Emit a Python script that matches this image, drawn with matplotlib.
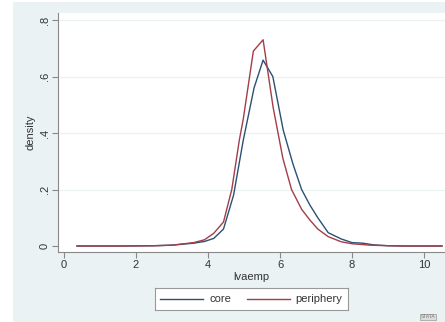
import matplotlib
matplotlib.use("Agg")
import matplotlib.pyplot as plt
from matplotlib.patches import Rectangle
from matplotlib.lines import Line2D

plt.rcParams['font.family'] = ['Liberation Sans', 'DejaVu Sans']

# kernel density estimates
core_x = [0.36, 1.5, 2.5, 3.0, 3.6, 3.9, 4.16, 4.43, 4.71, 4.98, 5.28, 5.53, 5.8,
          6.09, 6.36, 6.6, 6.83, 7.05, 7.34, 7.7, 8.0, 8.3, 8.6, 9.0, 9.5, 10.5]
core_y = [0.0, 0.0, 0.001, 0.003, 0.01, 0.016, 0.027, 0.06, 0.18, 0.375, 0.56, 0.658, 0.60,
          0.41, 0.29, 0.2, 0.145, 0.1, 0.047, 0.025, 0.012, 0.01, 0.004, 0.001, 0.0, 0.0]

peri_x = [0.36, 1.5, 2.5, 3.0, 3.6, 3.9, 4.16, 4.43, 4.66, 4.87, 4.98, 5.26, 5.53,
          5.81, 6.08, 6.32, 6.6, 6.83, 7.05, 7.34, 7.7, 8.0, 8.5, 9.0, 9.5, 10.5]
peri_y = [0.0, 0.0, 0.001, 0.003, 0.012, 0.022, 0.045, 0.085, 0.2, 0.375, 0.45, 0.69, 0.73,
          0.49, 0.31, 0.2, 0.13, 0.092, 0.06, 0.033, 0.015, 0.008, 0.003, 0.001, 0.0, 0.0]

xticks = [0, 2, 4, 6, 8, 10]
xtick_labels = ["0", "2", "4", "6", "8", "10"]
yticks = [0, 0.2, 0.4, 0.6, 0.8]
ytick_labels = ["0", ".2", ".4", ".6", ".8"]
series_names = ["core", "periphery"]

W, H = 445, 322
fig = plt.figure(figsize=(W / 100, H / 100), dpi=100, facecolor="white")

# graph region background (Stata s2color)
bg = Rectangle((13 / W, 0), 1 - 13 / W, (H - 2) / H,
               transform=fig.transFigure, facecolor="#EAF2F3",
               edgecolor="none", zorder=-10)
fig.patches.append(bg)

ax = fig.add_axes([58 / W, (H - 252) / H, (W - 58) / W, (252 - 13) / H])
ax.set_facecolor("white")

navy = "#2a5174"
maroon = "#a33d48"
ax.plot(core_x, core_y, color=navy, lw=1.0, zorder=3)
ax.plot(peri_x, peri_y, color=maroon, lw=1.0, zorder=3)

ax.set_xlim(-0.167, 10.583)
ax.set_ylim(-0.0212, 0.8248)

for yv in yticks[1:]:
    ax.axhline(yv, color="#EAF2F3", lw=0.9, zorder=1)

ax.set_xticks(xticks)
ax.set_xticklabels(xtick_labels, fontsize=8, color="#333333")
ax.set_yticks(yticks)
ax.set_yticklabels(ytick_labels, fontsize=8, color="#333333", rotation=90, va="center")
ax.tick_params(axis="both", length=4, width=0.8, color="#888888", direction="out", pad=2)

for s in ["top", "right"]:
    ax.spines[s].set_visible(False)
for s in ["left", "bottom"]:
    ax.spines[s].set_color("#888888")
    ax.spines[s].set_linewidth(0.8)

ax.set_xlabel("lvaemp", fontsize=8, color="#333333", labelpad=1)
ax.set_ylabel("density", fontsize=8, color="#333333", labelpad=3)

# legend box
lg_ax = fig.add_axes([155 / W, (H - 310) / H, (348 - 155) / W, (310 - 288) / H])
lg_ax.set_xlim(155, 348)
lg_ax.set_ylim(310, 288)
lg_ax.set_xticks([])
lg_ax.set_yticks([])
lg_ax.set_facecolor("white")
for s in lg_ax.spines.values():
    s.set_color("#999999")
    s.set_linewidth(0.8)
lg_ax.add_line(Line2D([160, 203], [299, 299], color=navy, lw=1.0))
lg_ax.text(210, 299, series_names[0], fontsize=8, va="center", ha="left", color="#333333")
lg_ax.add_line(Line2D([247, 290], [299, 299], color=maroon, lw=1.0))
lg_ax.text(295, 299, series_names[1], fontsize=8, va="center", ha="left", color="#333333")

fig.text(428 / W, 1 - 317 / H, "STATA", fontsize=3.5, color="#777777",
         ha="center", va="center",
         bbox=dict(boxstyle="square,pad=0.2", fc="#dddddd", ec="#999999", lw=0.5))

fig.savefig("out.png", dpi=100, facecolor="white")
